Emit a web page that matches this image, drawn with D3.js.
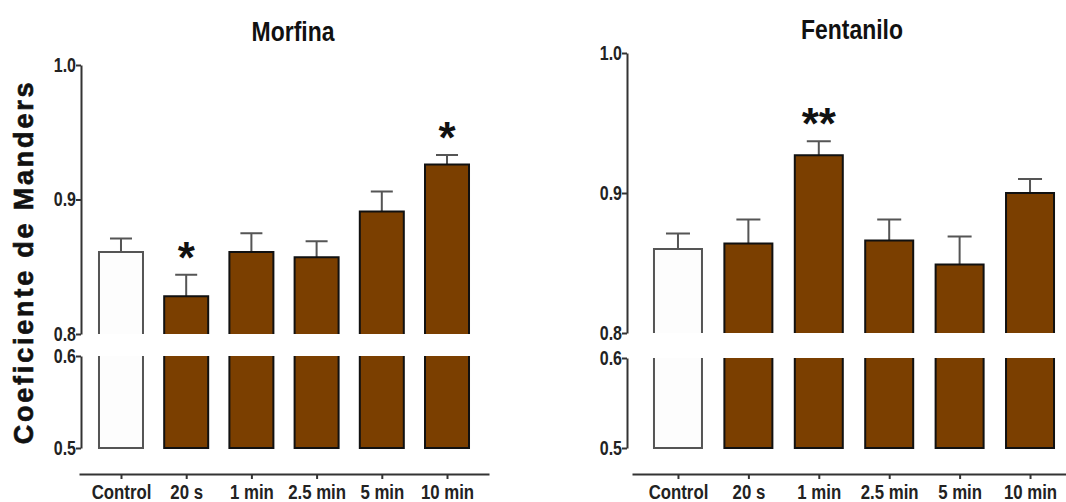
<!DOCTYPE html>
<html>
<head>
<meta charset="utf-8">
<script src="https://cdn.jsdelivr.net/npm/d3@7"></script>
<style>
  body { margin: 0; background: #fff; }
  svg { display: block; }
  .tick text { font-family: "Liberation Sans", Arial, sans-serif; font-weight: bold; fill: #222; }
</style>
</head>
<body>
<div id="chart-area"></div>
<script>
// data
let categories = ["Control", "20 s", "1 min", "2.5 min", "5 min", "10 min"];

let morfinaMeans = [0.861, 0.828, 0.861, 0.857, 0.891, 0.926];
let morfinaErr   = [0.010, 0.016, 0.014, 0.012, 0.015, 0.007];
let morfinaSig   = ["", "*", "", "", "", "*"];

let fentaniloMeans = [0.860, 0.864, 0.927, 0.866, 0.849, 0.900];
let fentaniloErr   = [0.011, 0.017, 0.010, 0.015, 0.020, 0.010];
let fentaniloSig   = ["", "", "**", "", "", ""];

let upperTicks = [0.8, 0.9, 1.0];
let lowerTicks = [0.5, 0.6];

let width = 1066, height = 502;
let brown = "#7b3f00";
let narrow = 0.8;   // horizontal squeeze, no narrow font installed

let svg = d3.select("#chart-area")
    .append("svg")
    .attr("width", width)
    .attr("height", height);

// Y Label
svg.append("text")
    .attr("transform", "translate(33,262) rotate(-90)")
    .attr("text-anchor", "middle")
    .attr("font-family", "Liberation Sans, Arial, sans-serif")
    .attr("font-weight", "bold")
    .attr("font-size", "27px")
    .attr("letter-spacing", "2.8px")
    .attr("stroke", "#111")
    .attr("stroke-width", 0.6)
    .attr("fill", "#111")
    .text("Coeficiente de Manders");

drawPanel({
    title: "Morfina", titleX: 293, titleY: 41,
    means: morfinaMeans, errs: morfinaErr, sig: morfinaSig,
    axisX: 81, y08: 334, y10: 65, y05: 448, y06: 356,
    x0: 79, x1: 489, pad: 0.644, xAxisY: 474,
    barW: 44, cap: 22
});

drawPanel({
    title: "Fentanilo", titleX: 852, titleY: 39,
    means: fentaniloMeans, errs: fentaniloErr, sig: fentaniloSig,
    axisX: 627, y08: 333, y10: 53, y05: 448, y06: 358,
    x0: 632, x1: 1076, pad: 0.653, xAxisY: 474,
    barW: 48, cap: 24
});

function styleAxis(sel) {
    sel.select(".domain").attr("stroke", "#333").attr("stroke-width", 2);
    sel.selectAll(".tick line").attr("stroke", "#333").attr("stroke-width", 2);
}

function drawPanel(p) {
    let g = svg.append("g");

    // Scales
    let x = d3.scalePoint()
        .domain(categories)
        .range([p.x0, p.x1])
        .padding(p.pad);

    let yTop = d3.scaleLinear()
        .domain([0.8, 1.0])
        .range([p.y08, p.y10]);

    let yBot = d3.scaleLinear()
        .domain([0.5, 0.6])
        .range([p.y05, p.y06]);

    // Title
    g.append("text")
        .attr("transform", "translate(" + p.titleX + "," + p.titleY + ") scale(0.85,1)")
        .attr("text-anchor", "middle")
        .attr("font-family", "Liberation Sans, Arial, sans-serif")
        .attr("font-weight", "bold")
        .attr("font-size", "27px")
        .attr("fill", "#111")
        .text(p.title);

    // Y axes (broken)
    let topAxis = g.append("g")
        .attr("transform", "translate(" + p.axisX + ",0)")
        .call(d3.axisLeft(yTop).tickValues(upperTicks)
            .tickFormat(d3.format(".1f")).tickSize(5).tickSizeOuter(0).tickPadding(0));
    let botAxis = g.append("g")
        .attr("transform", "translate(" + p.axisX + ",0)")
        .call(d3.axisLeft(yBot).tickValues(lowerTicks)
            .tickFormat(d3.format(".1f")).tickSize(5).tickSizeOuter(0).tickPadding(0));
    [topAxis, botAxis].forEach(function(a) {
        styleAxis(a);
        a.selectAll(".tick text")
            .attr("font-size", "20px")
            .attr("transform", "scale(" + narrow + ",1)")
            .attr("x", -5 / narrow);
    });

    // X axis
    let xAxis = g.append("g")
        .attr("transform", "translate(0," + p.xAxisY + ")")
        .call(d3.axisBottom(x).tickSize(5).tickSizeOuter(0).tickPadding(5));
    styleAxis(xAxis);
    xAxis.selectAll(".tick text")
        .attr("font-size", "21px")
        .attr("transform", "scale(" + narrow + ",1)");

    let rows = categories.map(function(c, i) {
        return { cat: c, mean: p.means[i], err: p.errs[i], sig: p.sig[i], control: i === 0 };
    });

    rows.forEach(function(d) {
        let cx = x(d.cat);
        let l = cx - p.barW / 2, r = cx + p.barW / 2;
        let fill = d.control ? "#fdfdfd" : brown;
        let stroke = d.control ? "#555" : "#111";

        // error bar
        g.append("path")
            .attr("d", "M" + cx + "," + yTop(d.mean) + "V" + yTop(d.mean + d.err) +
                "M" + (cx - p.cap / 2) + "," + yTop(d.mean + d.err) + "H" + (cx + p.cap / 2))
            .attr("fill", "none")
            .attr("stroke", "#555")
            .attr("stroke-width", 2);

        // upper segment
        g.append("rect")
            .attr("x", l)
            .attr("y", yTop(d.mean))
            .attr("width", p.barW)
            .attr("height", yTop(0.8) - yTop(d.mean))
            .attr("fill", fill);
        g.append("path")
            .attr("d", "M" + l + "," + yTop(0.8) + "V" + yTop(d.mean) + "H" + r + "V" + yTop(0.8))
            .attr("fill", "none")
            .attr("stroke", stroke)
            .attr("stroke-width", 2);

        // lower segment
        g.append("rect")
            .attr("x", l)
            .attr("y", yBot(0.6))
            .attr("width", p.barW)
            .attr("height", yBot(0.5) - yBot(0.6))
            .attr("fill", fill);
        g.append("path")
            .attr("d", "M" + l + "," + yBot(0.6) + "V" + yBot(0.5) + "H" + r + "V" + yBot(0.6))
            .attr("fill", "none")
            .attr("stroke", stroke)
            .attr("stroke-width", 2);

        // significance
        if (d.sig) {
            g.append("text")
                .attr("x", cx)
                .attr("y", yTop(d.mean + d.err) - 2)
                .attr("text-anchor", "middle")
                .attr("font-family", "Liberation Sans, Arial, sans-serif")
                .attr("font-weight", "bold")
                .attr("font-size", "44px")
                .attr("fill", "#111")
                .text(d.sig);
        }
    });
}
</script>
</body>
</html>
